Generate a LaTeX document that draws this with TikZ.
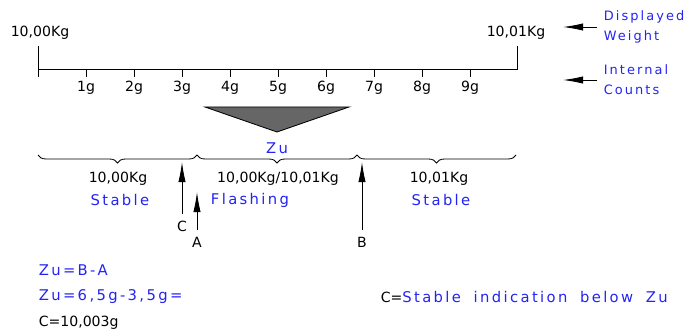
\documentclass[tikz,border=0pt]{standalone}
\usepackage{fontspec}
\setmainfont{DejaVu Sans}
\newfontfamily\cadwide[LetterSpace=16,WordSpace=1.8]{DejaVu Sans}
\usepackage{xcolor}
\usepackage{tikz}
\usetikzlibrary{arrows.meta,decorations.pathreplacing}
\definecolor{cadblue}{RGB}{35,35,245}

\begin{document}
\begin{tikzpicture}[x=0.025cm, y=-0.025cm, line width=0.6pt,
  >={Latex[length=5mm,width=1.8mm]},
  txt/.style={inner sep=1pt, font=\fontsize{10}{12}\selectfont},
  btxt/.style={inner sep=1pt, text=cadblue, font=\fontsize{10.5}{13}\cadwide},
  side/.style={inner sep=1pt, text=cadblue, anchor=west, align=left,
    font=\fontsize{9.2}{14.2}\cadwide},
  brc/.style={decorate, decoration={brace, mirror, amplitude=2mm}},
  up/.style={->, shorten <=3.5pt}]
  \useasboundingbox (0,0) rectangle (686,334);
  \node[txt] (w0) at (40,33) {10,00Kg};
  \node[txt] (w1) at (516,33) {10,01Kg};
  \draw (38,46) -- (38,77) (38,69) -- (517,69) -- (517,46);
  \foreach \n in {1,...,9} {
    \draw ({38+48*\n},69) -- ++(0,8);
    \node[txt] (t\n) at ({38+48*\n},88) {\n g};
  }
  \node[side] (disp) at (602,27) {Displayed\\Weight};
  \node[side] (intc) at (602,80) {Internal\\Counts};
  \coordinate (dispTip) at (563,27);
  \coordinate (intcTip) at (563,80);
  \draw[up] (disp) -- (dispTip);
  \draw[up] (intc) -- (intcTip);
  \filldraw[fill=black!60, draw=black] (205,107) -- (349,107) -- (277,132) -- cycle;
  \node[btxt] (zu) at (277,148) {Zu};
  \coordinate (b0) at (38,155);
  \coordinate (b1) at (197,155);
  \coordinate (b2) at (357,155);
  \coordinate (b3) at (516,155);
  \draw[brc] (b0) -- (b1);
  \draw[brc] (b1) -- (b2);
  \draw[brc] (b2) -- (b3);
  \node[txt] (low) at (118,179) {10,00Kg};
  \node[btxt] (lowst) at (120,200) {Stable};
  \node[txt] (mid) at (278,179) {10,00Kg/10,01Kg};
  \node[btxt] (midst) at (250,200) {Flashing};
  \node[txt] (high) at (439,179) {10,01Kg};
  \node[btxt] (highst) at (441,200) {Stable};
  \coordinate (tipC) at (182,162);
  \coordinate (tipA) at (197,192);
  \coordinate (tipB) at (362,162);
  \node[txt] (labC) at (182,226) {C};
  \node[txt] (labA) at (197,242) {A};
  \node[txt] (labB) at (362,242) {B};
  \draw[up] (labC) -- (tipC);
  \draw[up] (labA) -- (tipA);
  \draw[up] (labB) -- (tipB);
  \node[btxt, anchor=west] (eq1) at (37,270) {Zu=B-A};
  \node[btxt, anchor=west] (eq2) at (37,297) {Zu=6,5g-3,5g=};
  \node[txt, anchor=west] (eq3) at (37,323) {C=10,003g};
  \node[txt, anchor=west] (note) at (379,297)
    {C=\textcolor{cadblue}{\fontsize{10.5}{13}\cadwide Stable indication below Zu}};
\end{tikzpicture}
\end{document}
